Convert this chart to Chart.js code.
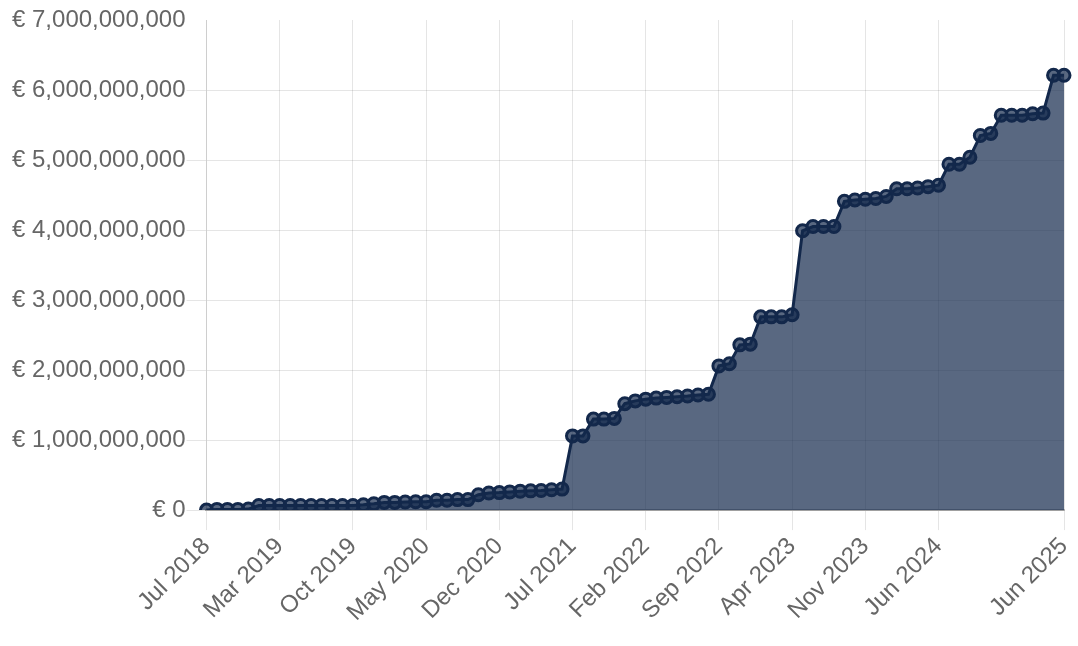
<!DOCTYPE html>
<html>
<head>
<meta charset="utf-8">
<script src="https://cdn.jsdelivr.net/npm/chart.js@4/dist/chart.umd.min.js"></script>
<style>
  html, body { margin: 0; padding: 0; background: #fff; }
  #wrap { width: 1078px; height: 646px; position: relative; }
</style>
</head>
<body>
<div id="wrap"><canvas id="c"></canvas></div>
<script>
// Month labels (one month missing in the source between Jul 2018 and Mar 2019)
const months = [
  "Jul 2018","Aug 2018","Sep 2018","Oct 2018","Nov 2018","Dec 2018","Feb 2019",
  "Mar 2019","Apr 2019","May 2019","Jun 2019","Jul 2019","Aug 2019","Sep 2019",
  "Oct 2019","Nov 2019","Dec 2019","Jan 2020","Feb 2020","Mar 2020","Apr 2020",
  "May 2020","Jun 2020","Jul 2020","Aug 2020","Sep 2020","Oct 2020","Nov 2020",
  "Dec 2020","Jan 2021","Feb 2021","Mar 2021","Apr 2021","May 2021","Jun 2021",
  "Jul 2021","Aug 2021","Sep 2021","Oct 2021","Nov 2021","Dec 2021","Jan 2022",
  "Feb 2022","Mar 2022","Apr 2022","May 2022","Jun 2022","Jul 2022","Aug 2022",
  "Sep 2022","Oct 2022","Nov 2022","Dec 2022","Jan 2023","Feb 2023","Mar 2023",
  "Apr 2023","May 2023","Jun 2023","Jul 2023","Aug 2023","Sep 2023","Oct 2023",
  "Nov 2023","Dec 2023","Jan 2024","Feb 2024","Mar 2024","Apr 2024","May 2024",
  "Jun 2024","Jul 2024","Aug 2024","Sep 2024","Oct 2024","Nov 2024","Dec 2024",
  "Jan 2025","Feb 2025","Mar 2025","Apr 2025","May 2025","Jun 2025"
];

// Cumulative amount, in billions of euro
const valuesBn = [
  0.00, 0.01, 0.01, 0.01, 0.015, 0.065, 0.065,
  0.065, 0.065, 0.065, 0.065, 0.065, 0.065, 0.065,
  0.065, 0.075, 0.09, 0.11, 0.11, 0.115, 0.12,
  0.12, 0.14, 0.14, 0.15, 0.15, 0.22, 0.245,
  0.25, 0.26, 0.27, 0.275, 0.28, 0.29, 0.30,
  1.06, 1.06, 1.30, 1.30, 1.31, 1.52, 1.56,
  1.585, 1.60, 1.61, 1.62, 1.63, 1.645, 1.655,
  2.06, 2.09, 2.36, 2.37, 2.76, 2.76, 2.76,
  2.79, 3.99, 4.05, 4.05, 4.05, 4.41, 4.43,
  4.44, 4.45, 4.48, 4.59, 4.59, 4.60, 4.62,
  4.64, 4.94, 4.94, 5.04, 5.35, 5.38, 5.64,
  5.64, 5.64, 5.66, 5.67, 6.21, 6.21
];
const values = valuesBn.map(v => Math.round(v * 1e9));

const yMax = 7000000000;
const yStep = 1000000000;
const labelEvery = 7;

const lineColor = "#13284b";
const fillColor = "rgba(19,40,75,0.7)";
const font = { family: "'Liberation Sans', Arial, Helvetica, sans-serif", size: 24 };

new Chart(document.getElementById("c"), {
  type: "line",
  data: {
    labels: months,
    datasets: [{
      data: values,
      borderColor: lineColor,
      backgroundColor: fillColor,
      fill: true,
      borderWidth: 3,
      pointRadius: 6,
      pointBorderWidth: 3,
      pointBackgroundColor: fillColor,
      pointBorderColor: lineColor,
      tension: 0
    }]
  },
  options: {
    responsive: true,
    maintainAspectRatio: false,
    animation: false,
    layout: { padding: { top: 20, right: 14, bottom: 17, left: 11 } },
    plugins: { legend: { display: false }, tooltip: { enabled: false } },
    scales: {
      x: {
        afterFit: scale => { scale.paddingRight = 0; },
        grid: {
          color: "rgba(0,0,0,0.1)",
          tickLength: 20
        },
        border: { color: "rgba(0,0,0,0.3)", width: 2 },
        ticks: {
          autoSkip: false,
          minRotation: 45,
          maxRotation: 45,
          color: "#666",
          font: font,
          padding: 2,
          callback: function (val, idx) {
            const last = months.length - 1;
            if (idx === last) return months[idx];
            if (idx % labelEvery === 0 && last - idx >= labelEvery) return months[idx];
            return null;
          }
        }
      },
      y: {
        min: 0,
        max: yMax,
        grid: {
          color: ctx => (ctx.tick && ctx.tick.value === yMax) ? "rgba(0,0,0,0)" : "rgba(0,0,0,0.1)",
          tickLength: 20
        },
        border: { color: "rgba(0,0,0,0.1)" },
        ticks: {
          stepSize: yStep,
          color: "#666",
          font: font,
          padding: 1,
          callback: v => "€ " + Number(v).toLocaleString("en-US")
        }
      }
    }
  }
});
</script>
</body>
</html>
